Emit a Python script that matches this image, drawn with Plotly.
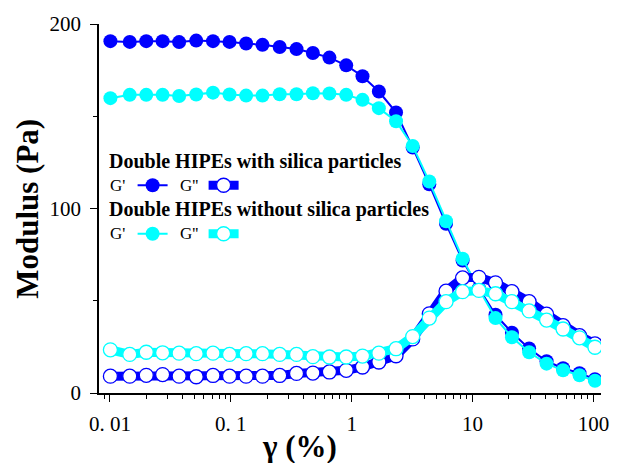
import plotly.graph_objects as go

# ---- data ----
strain = [0.0101, 0.0146, 0.0200, 0.0273, 0.0374, 0.0518, 0.0713, 0.0977, 0.134, 0.183,
          0.254, 0.350, 0.478, 0.655, 0.902, 1.23, 1.68, 2.33, 3.20, 4.39,
          6.04, 8.28, 11.3, 15.5, 21.2, 29.4, 41.0, 56.1, 76.8, 103.0]

gp_with = [190.7, 190.3, 190.7, 190.7, 190.2, 191.0, 190.7, 190.3, 189.4, 188.7,
           187.5, 186.4, 184.3, 181.8, 177.6, 171.7, 163.4, 152.1, 133.0, 113.1,
           91.7, 71.8, 56.8, 42.4, 32.7, 24.1, 17.2, 13.4, 10.7, 7.5]
gpp_with = [9.1, 9.1, 9.6, 10.0, 9.1, 8.8, 9.5, 9.1, 9.1, 9.1,
            9.5, 10.6, 10.8, 11.4, 12.3, 14.1, 16.8, 20.2, 29.3, 42.9,
            55.2, 62.4, 62.7, 59.7, 54.9, 49.5, 42.7, 36.5, 31.1, 26.6]
gp_without = [159.8, 161.6, 161.6, 161.6, 161.0, 161.8, 162.8, 161.8, 161.2, 161.2,
              161.9, 161.9, 162.5, 162.3, 161.6, 158.9, 154.4, 147.3, 133.9, 114.6,
              93.1, 72.8, 56.3, 40.6, 30.2, 22.1, 15.9, 12.3, 9.65, 6.6]
gpp_without = [23.4, 20.9, 22.1, 21.8, 21.6, 21.3, 21.6, 20.9, 21.3, 21.3,
               20.9, 20.9, 19.7, 19.5, 19.5, 20.0, 21.6, 24.0, 30.6, 40.6,
               49.5, 54.9, 55.6, 53.8, 49.5, 44.5, 39.5, 34.7, 29.9, 24.8]

x_tickvals = [0.01, 0.1, 1, 10, 100]
x_ticktext = ["0. 01", "0. 1", "1", "10", "100"]
y_tickvals = [0, 100, 200]
y_minor = [50, 150]

group_titles = ["Double HIPEs with silica particles", "Double HIPEs without silica particles"]
item_labels = ["G'", "G''"]

BLUE = "#0000FF"
CYAN = "#00FFFF"
FONT = "Liberation Serif"

# layout geometry (pixels)
W, H = 621, 463
ML, MR, MT, MB = 99, 14, 20, 70
PW, PH = W - ML - MR, H - MT - MB


def fx(px):
    return (px - ML) / PW


def fy(py):
    return (H - MB - py) / PH


fig = go.Figure()


def gp_trace(y, color, legend, name):
    return go.Scatter(x=strain, y=y, mode="lines+markers", name="",
                      hovertemplate=name + ": %{y}<extra></extra>",
                      line=dict(color=color, width=2),
                      marker=dict(symbol="circle", size=14, color=color,
                                  line=dict(color=color, width=0)),
                      legend=legend)


def gpp_trace(y, color, legend, name):
    return go.Scatter(x=strain, y=y, mode="lines+markers", name="",
                      hovertemplate=name + ": %{y}<extra></extra>",
                      line=dict(color=color, width=9),
                      marker=dict(symbol="circle", size=14, color="white",
                                  line=dict(color=color, width=1.3)),
                      legend=legend)


fig.add_trace(gp_trace(gp_with, BLUE, "legend", "G' with silica"))
fig.add_trace(gp_trace(gp_without, CYAN, "legend2", "G' without silica"))
fig.add_trace(gpp_trace(gpp_with, BLUE, "legend", "G'' with silica"))
fig.add_trace(gpp_trace(gpp_without, CYAN, "legend2", "G'' without silica"))

minor_x = [m * 10 ** e for e in range(-3, 2) for m in range(2, 10)]

fig.update_xaxes(type="log", range=[-2.09, 2.063],
                 tickmode="array", tickvals=x_tickvals, ticktext=x_ticktext,
                 ticks="outside", ticklen=7, tickwidth=1.3, tickcolor="black",
                 ticklabelstandoff=4,
                 showline=True, linecolor="black", linewidth=1.5,
                 showgrid=False, zeroline=False,
                 tickfont=dict(family=FONT, size=21, color="black"),
                 minor=dict(tickmode="array", tickvals=minor_x, ticks="outside",
                            ticklen=4, tickwidth=1, tickcolor="black", showgrid=False))
fig.update_yaxes(range=[0, 200], tickmode="array", tickvals=y_tickvals,
                 ticks="outside", ticklen=7, tickwidth=1.3, tickcolor="black",
                 ticklabelstandoff=5,
                 showline=True, linecolor="black", linewidth=1.5,
                 showgrid=False, zeroline=False,
                 tickfont=dict(family=FONT, size=21, color="black"),
                 minor=dict(tickmode="array", tickvals=y_minor, ticks="outside",
                            ticklen=4, tickwidth=1, tickcolor="black", showgrid=False))

annotations = [
    dict(text="<b>γ (%)</b>", x=fx(302), y=fy(447), xref="paper", yref="paper",
         xanchor="center", yanchor="middle", showarrow=False,
         font=dict(family=FONT, size=31, color="black")),
    dict(text="<b>Modulus (Pa)</b>", x=fx(27), y=fy(207), xref="paper", yref="paper",
         xanchor="center", yanchor="middle", showarrow=False, textangle=-90,
         font=dict(family=FONT, size=31, color="black")),
]
rows = [(158.5, 183), (207.5, 232)]
for title, (ty, ry) in zip(group_titles, rows):
    annotations.append(dict(text="<b>" + title + "</b>", x=fx(107), y=fy(ty),
                            xref="paper", yref="paper", xanchor="left", yanchor="middle",
                            showarrow=False, font=dict(family=FONT, size=20, color="black")))
    for lab, lx in zip(item_labels, [108, 179]):
        annotations.append(dict(text=lab, x=fx(lx), y=fy(ry), xref="paper", yref="paper",
                                xanchor="left", yanchor="middle", showarrow=False,
                                font=dict(family=FONT, size=17, color="black")))

legend_common = dict(orientation="h", xanchor="left", yanchor="middle",
                     bgcolor="rgba(0,0,0,0)", borderwidth=0,
                     entrywidthmode="pixels", entrywidth=26,
                     font=dict(family=FONT, size=12, color="black"),
                     itemclick=False, itemdoubleclick=False)

fig.update_layout(
    width=W, height=H,
    margin=dict(l=ML, r=MR, t=MT, b=MB, pad=0),
    paper_bgcolor="white", plot_bgcolor="white",
    showlegend=True,
    legend=dict(x=fx(133), y=fy(rows[0][1]), **legend_common),
    legend2=dict(x=fx(133), y=fy(rows[1][1]), **legend_common),
    annotations=annotations,
    font=dict(family=FONT, color="black"),
)

fig.write_html("out.html")
